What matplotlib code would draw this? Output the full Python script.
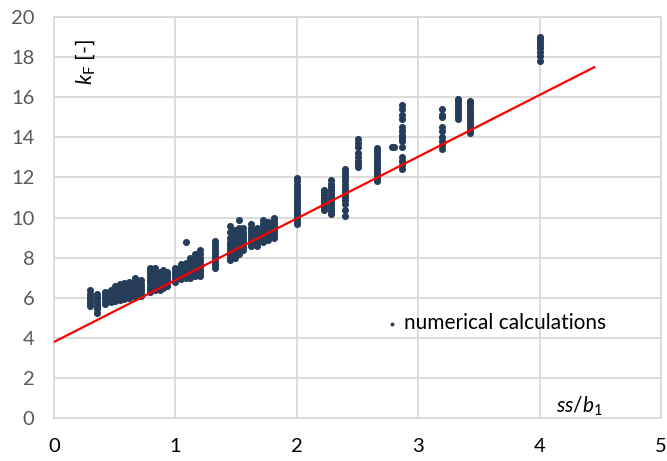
import matplotlib
matplotlib.use('Agg')
import matplotlib.pyplot as plt

# ss/b1 columns and the k_F values computed at each of them
col_x = [0.30, 0.35, 0.42, 0.47, 0.50, 0.54, 0.58, 0.62, 0.67, 0.72,
         0.79, 0.83, 0.87, 0.90, 0.93, 1.00, 1.05, 1.09, 1.12, 1.16,
         1.20, 1.33, 1.45, 1.49, 1.52, 1.56, 1.62, 1.67, 1.72, 1.76,
         1.81, 2.00, 2.22, 2.28, 2.40, 2.50, 2.66, 2.78, 2.80, 2.87,
         3.20, 3.33, 3.43, 4.00]
col_y = [
    [5.6, 5.75, 5.9, 6.05, 6.2, 6.4],
    [5.25, 5.45, 5.6, 5.75, 5.9, 6.05, 6.2],
    [5.7, 5.85, 6.0, 6.15, 6.3],
    [5.8, 5.95, 6.1, 6.25, 6.4],
    [5.85, 6.0, 6.15, 6.3, 6.45, 6.6],
    [5.9, 6.05, 6.2, 6.35, 6.5, 6.7],
    [5.95, 6.1, 6.25, 6.4, 6.55, 6.75],
    [6.0, 6.15, 6.3, 6.45, 6.6, 6.8],
    [6.05, 6.2, 6.35, 6.5, 6.65, 6.85, 7.0],
    [6.1, 6.25, 6.4, 6.55, 6.7, 6.9],
    [6.3, 6.45, 6.6, 6.75, 6.9, 7.05, 7.2, 7.35, 7.5],
    [6.4, 6.55, 6.7, 6.85, 7.0, 7.15, 7.3, 7.5],
    [6.4, 6.55, 6.7, 6.85, 7.0, 7.15, 7.3],
    [6.5, 6.65, 6.8, 6.95, 7.1, 7.25, 7.4],
    [6.6, 6.75, 6.9, 7.05, 7.2, 7.3],
    [6.8, 6.95, 7.1, 7.25, 7.4, 7.5],
    [6.95, 7.1, 7.25, 7.4, 7.55, 7.7],
    [7.0, 7.15, 7.3, 7.45, 7.6, 7.75, 8.8],
    [7.0, 7.15, 7.3, 7.45, 7.6, 7.8, 8.0],
    [7.1, 7.25, 7.4, 7.55, 7.7, 7.85, 8.0, 8.2],
    [7.1, 7.25, 7.4, 7.55, 7.7, 7.85, 8.0, 8.2, 8.4],
    [7.5, 7.65, 7.8, 7.95, 8.1, 8.25, 8.4, 8.55, 8.7, 8.85],
    [7.9, 8.05, 8.2, 8.35, 8.5, 8.65, 8.8, 9.0, 9.3, 9.6],
    [8.0, 8.15, 8.3, 8.45, 8.6, 8.75, 8.9, 9.1, 9.4],
    [8.2, 8.35, 8.5, 8.65, 8.8, 8.95, 9.2, 9.5, 9.9],
    [8.4, 8.55, 8.7, 8.85, 9.0, 9.15, 9.3, 9.5],
    [8.6, 8.75, 8.9, 9.05, 9.2, 9.35, 9.5, 9.7],
    [8.6, 8.75, 8.9, 9.05, 9.2, 9.35, 9.5],
    [8.8, 8.95, 9.1, 9.25, 9.4, 9.55, 9.7, 9.9],
    [8.9, 9.05, 9.2, 9.35, 9.5, 9.65, 9.8],
    [9.0, 9.15, 9.3, 9.45, 9.6, 9.75, 9.9, 10.0],
    [9.7, 9.85, 10.0, 10.15, 10.3, 10.45, 10.6, 10.75, 10.9, 11.05,
     11.2, 11.35, 11.5, 11.65, 11.8, 11.95],
    [10.4, 10.55, 10.7, 10.85, 11.0, 11.15, 11.3, 11.4],
    [10.2, 10.35, 10.5, 10.65, 10.8, 10.95, 11.1, 11.25, 11.4, 11.55,
     11.7, 11.85],
    [10.1, 10.4, 10.7, 10.9, 11.05, 11.2, 11.35, 11.5, 11.65, 11.8,
     11.95, 12.1, 12.25, 12.4],
    [12.5, 12.65, 12.8, 13.0, 13.2, 13.5, 13.7, 13.9],
    [11.8, 11.95, 12.1, 12.25, 12.4, 12.55, 12.7, 12.85, 13.0, 13.15,
     13.3, 13.45],
    [13.5],
    [13.5],
    [12.4, 12.6, 12.8, 13.0, 13.5, 13.8, 13.9, 14.0, 14.1, 14.3, 14.5,
     14.9, 15.1, 15.4, 15.6],
    [13.4, 13.6, 13.8, 14.0, 14.3, 14.5, 15.0, 15.1, 15.4],
    [14.9, 15.05, 15.2, 15.35, 15.5, 15.65, 15.8, 15.9],
    [14.2, 14.35, 14.5, 14.65, 14.8, 14.95, 15.1, 15.25, 15.4, 15.55,
     15.7, 15.8],
    [17.8, 18.05, 18.25, 18.45, 18.6, 18.75, 18.9, 19.0],
]

# red trend line end points
fit_x = [0.0, 4.45]
fit_y = [3.8, 17.5]

x_ticks = [0, 1, 2, 3, 4, 5]
y_ticks = [0, 2, 4, 6, 8, 10, 12, 14, 16, 18, 20]

plt.rcParams['font.family'] = ['Lato', 'DejaVu Sans']
plt.rcParams['mathtext.fontset'] = 'custom'
plt.rcParams['mathtext.rm'] = 'Lato'
plt.rcParams['mathtext.it'] = 'Lato:italic'

pts_x = []
pts_y = []
for x, ys in zip(col_x, col_y):
    for y in ys:
        pts_x.append(x)
        pts_y.append(y)

fig = plt.figure(figsize=(6.67, 4.61), dpi=100)
ax = fig.add_axes([0.081, 0.093, 0.91, 0.87])

ax.scatter(pts_x, pts_y, s=26, color='#263d5a', linewidths=0,
           label='numerical calculations', zorder=3)
ax.plot(fit_x, fit_y, color='#ff0000', lw=1.6, zorder=4)

ax.set_xlim(0, 5)
ax.set_ylim(0, 20)
ax.set_xticks(x_ticks)
ax.set_yticks(y_ticks)
ax.grid(True, color='#d9d9d9', lw=1.3)
ax.set_axisbelow(True)
for s in ax.spines.values():
    s.set_color('#d9d9d9')
    s.set_linewidth(1.3)
ax.tick_params(length=0, pad=14, labelsize=14.5)
ax.tick_params(axis='y', labelcolor='#595959')
ax.tick_params(axis='x', labelcolor='black')

ax.text(0.26, 17.75, r'$k_\mathrm{F}$ [-]', rotation=90, ha='center',
        va='center', fontsize=15.5)
ax.text(4.33, 0.6, r'$ss/b_\mathit{1}$', ha='center', va='center',
        fontsize=15)

ax.legend(loc='center', bbox_to_anchor=(0.725, 0.237), frameon=False,
          fontsize=15, markerscale=0.55, handletextpad=0.1,
          handlelength=1.0)

fig.savefig('out.png', dpi=100)
